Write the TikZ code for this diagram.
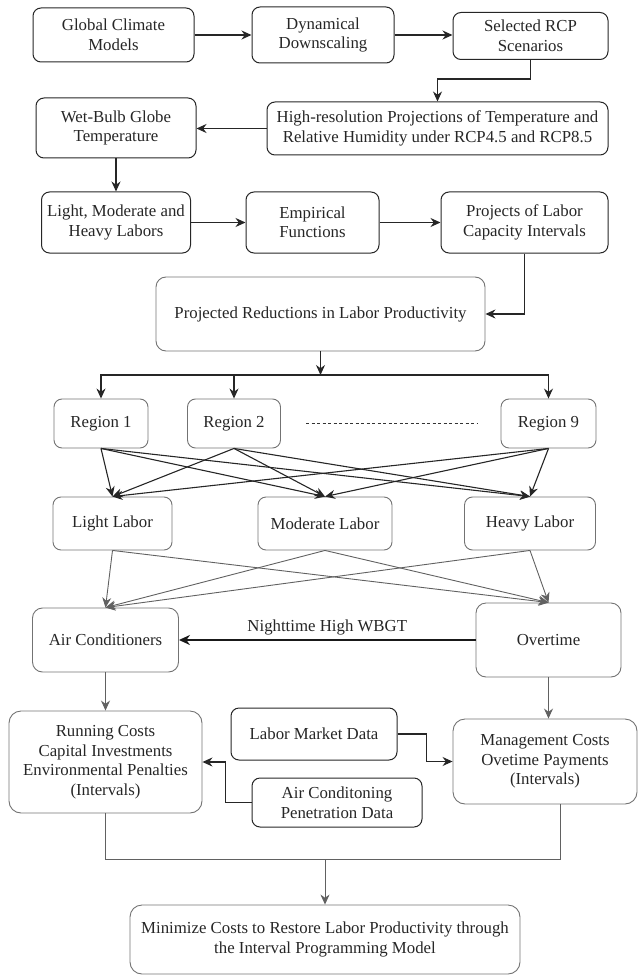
\documentclass[tikz,border=0pt]{standalone}
\usepackage{fontspec}
\setmainfont{Liberation Serif}
\usetikzlibrary{arrows.meta}
\begin{document}
\begin{tikzpicture}[x=1pt,y=-1pt,
  box/.style={draw=black!85, rounded corners=8pt, line width=1pt, align=center, inner sep=0pt,
    font=\fontsize{16.8}{19.5}\selectfont, text=black!85},
  gbox/.style={box, draw=black!55, line width=0.9pt},
  arr/.style={-{Stealth[length=10pt,width=9pt]}, line width=1.4pt, draw=black!85},
  marr/.style={-{Stealth[length=10pt,width=9pt]}, line width=1.1pt, draw=black!85},
  garr/.style={-{Stealth[length=10pt,width=9pt]}, line width=0.9pt, draw=black!62},
  gline/.style={line width=0.9pt, draw=black!62}
]
\useasboundingbox (0,0) rectangle (639,976);

% row 1
\node[box, minimum width=161pt, minimum height=54pt] (gcm) at (113.5,35) {Global Climate\\Models};
\node[box, minimum width=142pt, minimum height=56pt] (dyn) at (323,35) {Dynamical\\Downscaling};
\node[box, minimum width=155pt, minimum height=47pt] (rcp) at (530.5,36) {Selected RCP\\Scenarios};
% row 2
\node[box, minimum width=160pt, minimum height=60pt] (wbgt) at (116,128) {Wet-Bulb Globe\\Temperature};
\node[box, minimum width=341pt, minimum height=53pt] (hires) at (437.5,128.5) {High-resolution Projections of Temperature and\\Relative Humidity under RCP4.5 and RCP8.5};
% row 3
\node[box, minimum width=149pt, minimum height=61pt] (lmh) at (116,222.5) {Light, Moderate and\\Heavy Labors};
\node[box, minimum width=133pt, minimum height=61pt] (emp) at (312.5,222.5) {Empirical\\Functions};
\node[box, minimum width=167pt, minimum height=61pt] (proj) at (524.5,222.5) {Projects of Labor\\Capacity Intervals};
% reductions
\node[gbox, rounded corners=10pt, minimum width=329pt, minimum height=74pt] (red) at (320.5,314) {Projected Reductions in Labor Productivity};
% regions
\node[gbox, minimum width=94pt, minimum height=49pt] (r1) at (101,423.5) {Region 1};
\node[gbox, minimum width=93pt, minimum height=49pt] (r2) at (234,423.5) {Region 2};
\node[gbox, minimum width=95pt, minimum height=49pt] (r9) at (548.5,423.5) {Region 9};
\coordinate (da) at (306,423);
\coordinate (db) at (477,423);
\draw[black!80, line width=0.8pt, dash pattern=on 3pt off 2.5pt] (da) -- (db);
% labor
\node[gbox, minimum width=119pt, minimum height=53pt] (light) at (112.5,523.5) {Light Labor};
\node[gbox, minimum width=134pt, minimum height=53pt] (mod) at (325,523.5) {Moderate Labor};
\node[gbox, minimum width=131pt, minimum height=53pt] (heavy) at (530,523.5) {Heavy Labor};
% measures
\node[gbox, rounded corners=10pt, minimum width=146pt, minimum height=64pt] (ac) at (105.5,640) {Air Conditioners};
\node[gbox, rounded corners=10pt, minimum width=145pt, minimum height=74pt] (ot) at (548.5,640) {Overtime};
% costs
\node[gbox, rounded corners=12pt, minimum width=193pt, minimum height=102pt] (run) at (105.5,762) {Running Costs\\Capital Investments\\Environmental Penalties\\(Intervals)};
\node[box, minimum width=166pt, minimum height=52pt] (lmd) at (314,734) {Labor Market Data};
\node[box, minimum width=170pt, minimum height=49pt] (acp) at (337,802.5) {Air Conditoning\\Penetration Data};
\node[gbox, rounded corners=12pt, minimum width=184pt, minimum height=85pt] (mgmt) at (545,761.5) {Management Costs\\Ovetime Payments\\(Intervals)};
% final
\node[gbox, rounded corners=12pt, minimum width=390pt, minimum height=69pt] (min) at (325,939.5) {Minimize Costs to Restore Labor Productivity through\\the Interval Programming Model};

% connectors top
\draw[arr] (gcm) -- (dyn);
\draw[arr] (dyn.east) -- (dyn.east -| rcp.west);
\draw[marr] (rcp.south) -- ++(0,19) -| (hires.north);
\draw[arr] (hires.west) -- (hires.west -| wbgt.east);
\draw[marr] (wbgt.south) -- (lmh.north);
\draw[arr] (lmh.east) -- (emp.west);
\draw[arr] (emp.east) -- (proj.west);
\draw[marr] (proj.south) |- (red.east);
\coordinate (split) at (320.5,375);
\draw[marr] (red.south) -- (split);
\draw[marr] (split) -| (r1.north);
\draw[marr] (split) -| (r2.north);
\draw[marr] (split) -| (r9.north);
% regions to labor
\foreach \r in {r1,r2,r9}{
  \foreach \l in {light,mod,heavy}{
    \draw[marr] (\r.south) -- (\l.north);
  }
}
% labor to measures
\foreach \l in {light,mod,heavy}{
  \draw[garr] (\l.south) -- (ac.north);
  \draw[garr] (\l.south) -- (ot.north);
}
\draw[-{Stealth[length=11pt,width=10pt]}, line width=1.9pt, black!90] (ot.west) -- (ac.east)
  node[midway, above=1pt, font=\fontsize{16.8}{19.5}\selectfont, text=black!85] {Nighttime High WBGT};
\draw[garr] (ac.south) -- (run.north);
\draw[garr] (ot.south) -- (ot.south |- mgmt.north);
\draw[marr] (lmd.east) -- ++(29,0) |- (mgmt.west);
\draw[marr] (acp.west) -- ++(-26,0) |- (run.east);
\coordinate (mj) at (560,859);
\draw[gline] (run.south) |- (mj) -- (mj |- mgmt.south);
\draw[garr] (min.north |- mj) -- (min.north);
\end{tikzpicture}
\end{document}
